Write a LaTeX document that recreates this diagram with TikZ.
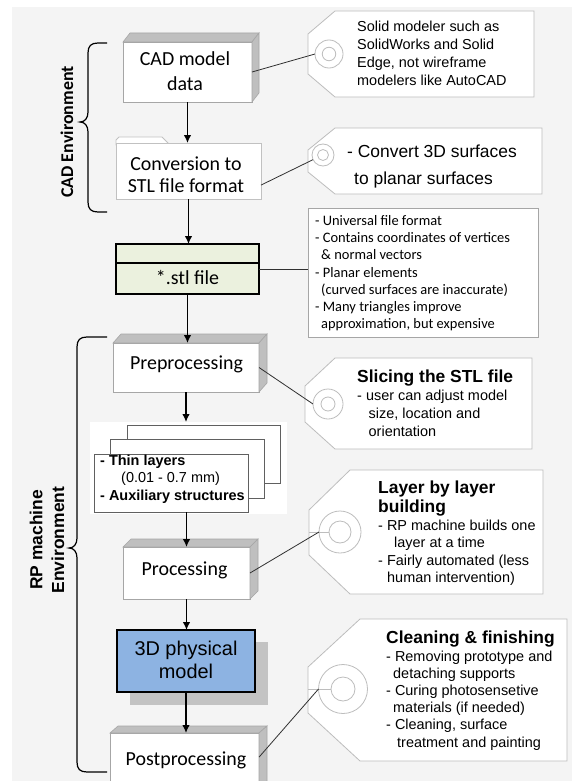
\documentclass[tikz,border=0pt]{standalone}
\usepackage{fontspec}
\setmainfont{Carlito}
\newfontfamily\arialf{Liberation Sans}
\usetikzlibrary{arrows.meta,calc}
\definecolor{bggray}{HTML}{F4F4F4}
\definecolor{boxline}{HTML}{A6A6A6}
\definecolor{facefill}{HTML}{BFBFBF}
\definecolor{tagline}{HTML}{BDBDBD}
\definecolor{stlgreen}{HTML}{EBF1DE}
\definecolor{physblue}{HTML}{8DB3E2}
\definecolor{shadowgray}{HTML}{C3C3C3}
\definecolor{layerline}{HTML}{606060}
\definecolor{linkline}{HTML}{303030}
\newcommand\tlines[2]{\begin{tabular}[t]{@{}#1@{}}#2\end{tabular}}
\newcommand\cubefaces[3]{%
  \filldraw[face] (#1.north west) -- ++(#2,-#3) -- ($(#1.north east)+(#2,-#3)$) -- (#1.north east) -- cycle;
  \filldraw[face] (#1.north east) -- ($(#1.north east)+(#2,-#3)$) -- ($(#1.south east)+(#2,-#3)$) -- (#1.south east) -- cycle;}
\begin{document}
\begin{tikzpicture}[x=1bp,y=-1bp,
  box/.style={draw=boxline, fill=white, line width=0.8bp, inner sep=0, outer sep=0},
  face/.style={draw=boxline, fill=facefill, line width=0.6bp},
  lbl/.style={anchor=base, inner sep=0, font=\fontsize{20}{25}\selectfont},
  arr/.style={line width=1.3bp, -{Latex[length=8bp,width=7.5bp]}},
  brace/.style={line width=1.2bp, draw=black},
  link/.style={draw=linkline, line width=0.8bp},
  tag/.style={draw=tagline, fill=white, line width=0.8bp},
  tagstring/.style={draw=tagline, line width=0.8bp},
  tagtext/.style={anchor=base west, inner sep=0, font=\arialf\fontsize{14.5}{18}\selectfont},
  taghead/.style={anchor=base west, inner sep=0, font=\arialf\bfseries\fontsize{17.5}{20}\selectfont},
  ring/.style={circle, draw=tagline, fill=white, line width=0.8bp, inner sep=0, outer sep=0},
  layer/.style={draw=layerline, fill=white, line width=0.9bp, inner sep=0, outer sep=0}]
\useasboundingbox (0,0) rectangle (572,781);
\fill[white] (0,0) rectangle (572,781);
\fill[bggray] (12,7) rectangle (572,781);

% braces
\draw[brace] (107,43) -- (98,43) .. controls (91,43) and (88,46) .. (88,53) -- (88,112)
  .. controls (88,118) and (85,122) .. (80,122) .. controls (85,122) and (88,126) .. (88,132)
  -- (88,202) .. controls (88,209) and (91,212) .. (98,212) -- (107,212);
\draw[brace] (107,337) -- (87,337) .. controls (80,337) and (77,340) .. (77,347) -- (77,538)
  .. controls (77,544) and (74,548) .. (69,548) .. controls (74,548) and (77,552) .. (77,558)
  -- (77,762) .. controls (77,769) and (80,772) .. (87,772) -- (107,772);
\node[rotate=90, inner sep=0, font=\bfseries\fontsize{18}{22}\selectfont] (cadenv) at (67,132) {CAD Environment};
\node[rotate=90, inner sep=0, align=center, font=\arialf\bfseries\fontsize{17.5}{22}\selectfont] (rpenv) at (47,540) {RP machine\\Environment};

% tags
\draw[tag] (335,11) -- (534,11) -- (534,97) -- (335,97) -- (308,74) -- (308,34) -- cycle;
\node[ring, minimum size=28bp] (t1o) at (329,54) {};
\node[ring, minimum size=13.5bp] (t1i) at (329,54) {};
\draw[tag] (335,128) -- (542,128) -- (542,194) -- (335,194) -- (308,172) -- (308,150) -- cycle;
\node[ring, minimum size=22bp] (t2o) at (323,155) {};
\node[ring, minimum size=11bp] (t2i) at (323,155) {};
\draw[tag] (335,358) -- (532,358) -- (532,449) -- (335,449) -- (305,422) -- (305,386) -- cycle;
\node[ring, minimum size=30bp] (t3o) at (328,404) {};
\node[ring, minimum size=14bp] (t3i) at (328,404) {};
\draw[tag] (350,470) -- (543,470) -- (543,594) -- (350,594) -- (309,555) -- (309,510) -- cycle;
\node[ring, minimum size=42bp] (t4o) at (340,532) {};
\node[ring, minimum size=22bp] (t4i) at (340,532) {};
\draw[tagstring] (309,532) -- (t4i.west);
\draw[tag] (360,619) -- (567,619) -- (567,761) -- (360,761) -- (308,713) -- (308,667) -- cycle;
\node[ring, minimum size=49bp] (t5o) at (343,689) {};
\node[ring, minimum size=24bp] (t5i) at (343,689) {};
\draw[tagstring] (308,689) -- (t5i.west);

% tag texts
\node[tagtext] (t1text) at (357,32) {\tlines{l}{Solid modeler such as\\SolidWorks and Solid\\Edge, not wireframe\\modelers like AutoCAD}};
\node[tagtext, font=\arialf\fontsize{17.5}{28}\selectfont] (t2text) at (347,157) {\tlines{l}{- Convert 3D surfaces\\\hspace{7bp}to planar surfaces}};
\node[taghead] (t3head) at (357,382) {Slicing the STL file};
\node[tagtext, font=\arialf\fontsize{14.5}{18.5}\selectfont] (t3text) at (357,400) {\tlines{l}{- user can adjust model\\\hspace{11.5bp}size, location and\\\hspace{11.5bp}orientation}};
\node[taghead] (t4head) at (378,493) {\tlines{l}{Layer by layer\\building}};
\node[tagtext, font=\arialf\fontsize{14.5}{17.7}\selectfont] (t4text) at (378,530) {\tlines{l}{- RP machine builds one\\\hspace{16bp}layer at a time\\- Fairly automated (less\\\hspace{9bp}human intervention)}};
\node[taghead] (t5head) at (386,643) {Cleaning \& finishing};
\node[tagtext, font=\arialf\fontsize{14.5}{17.3}\selectfont] (t5text) at (386,661) {\tlines{l}{- Removing prototype and\\\hspace{7bp}detaching supports\\- Curing photosensetive\\\hspace{7bp}materials (if needed)\\- Cleaning, surface\\\hspace{11bp}treatment and painting}};

% note box
\node[draw=boxline, fill=white, line width=0.8bp, minimum width=230bp, minimum height=129bp, inner sep=0] (note) at (423,272.5) {};
\node[anchor=base west, inner sep=0, font=\fontsize{14.5}{17.3}\selectfont] (notetext) at (315,225.5) {\tlines{l}{- Universal file format\\- Contains coordinates of vertices\\\hspace{6bp}\& normal vectors\\- Planar elements\\\hspace{6bp}(curved surfaces are inaccurate)\\- Many triangles improve\\\hspace{6bp}approximation, but expensive}};

% CAD model data
\node[box, minimum width=129bp, minimum height=60bp] (cad) at (187.5,72) {};
\cubefaces{cad}{7}{9}
% conversion (folder)
\filldraw[draw=boxline!70, fill=white, line width=0.8bp] (116,145) -- (116,140) -- (119,137) -- (162,137) -- (168,143) -- (170,145) -- cycle;
\node[box, draw=boxline!70, minimum width=145bp, minimum height=56bp] (conv) at (188.5,171) {};
% stl
\node[draw=black, fill=stlgreen, line width=1.5bp, minimum width=143bp, minimum height=50bp, inner sep=0, outer sep=0] (stl) at (187.5,269) {};
\draw[line width=1.5bp] ($(stl.north west)+(0,19)$) -- ($(stl.north east)+(0,19)$);
% preprocessing
\node[box, minimum width=146bp, minimum height=49bp] (pre) at (186,367.5) {};
\cubefaces{pre}{8}{9}
% layer stack
\node[fill=white, minimum width=197bp, minimum height=92bp, inner sep=0, outer sep=0] (stackbg) at (188.5,468) {};
\node[layer, minimum width=153bp, minimum height=58bp] (back) at (203.5,454) {};
\node[layer, minimum width=154bp, minimum height=59bp] (mid) at (187,468.5) {};
\node[layer, minimum width=154bp, minimum height=58bp] (front) at (171,483) {};
\node[anchor=base west, inner sep=0, font=\arialf\fontsize{14.5}{18}\selectfont] (fronttext) at (100,465) {\tlines{l}{\textbf{- Thin layers}\\\hspace{21bp}(0.01 - 0.7 mm)\\\textbf{- Auxiliary structures}}};
% processing
\node[box, minimum width=127bp, minimum height=52bp] (proc) at (186.5,573) {};
\cubefaces{proc}{8}{8}
% 3D physical model
\fill[shadowgray] (130,642) rectangle (268,705);
\node[draw=black, fill=physblue, line width=1.5bp, minimum width=138bp, minimum height=62bp, inner sep=0, outer sep=0] (phys) at (186,661) {};
% postprocessing
\node[box, minimum width=149bp, minimum height=64bp] (post) at (184.5,765) {};
\cubefaces{post}{8}{7}

% connectors
\draw[link] (cad.east) -- (t1o.west);
\draw[link] (conv.-11) -- (t2o.205);
\draw[link] (stl.east) -- (stl.east -| note.west);
\draw[link] (pre.east) -- (t3o.west);
\draw[link] (proc.east) -- (t4o.west);
\draw[link] (post.6) -- (t5o.west);

% arrows
\draw[arr] (cad.south) -- (cad.south |- conv.north);
\draw[arr] (conv.south) -- (conv.south |- stl.north);
\draw[arr] (stl.south) -- (stl.south |- pre.north);
\draw[arr] (pre.south) -- (pre.south |- stackbg.north);
\draw[arr] (proc.north |- front.south) -- (proc.north);
\draw[arr] (proc.south) -- (proc.south |- phys.north);
\draw[arr] (phys.south) -- (phys.south |- post.north);

% box labels
\node[lbl] (cadlbl) at (185,66) {\tlines{c}{CAD model\\data}};
\node[lbl, font=\fontsize{20}{23}\selectfont] (convlbl) at (186,170) {\tlines{c}{Conversion to\\STL file format}};
\node[lbl] (stllbl) at (187.5,284) {*.stl file};
\node[lbl] (prelbl) at (186.5,369) {Preprocessing};
\node[lbl] (proclbl) at (184.5,575) {Processing};
\node[lbl, font=\arialf\fontsize{20}{24}\selectfont] (physlbl) at (186,655) {\tlines{c}{3D physical\\model}};
\node[lbl] (postlbl) at (186,765) {Postprocessing};
\end{tikzpicture}
\end{document}
